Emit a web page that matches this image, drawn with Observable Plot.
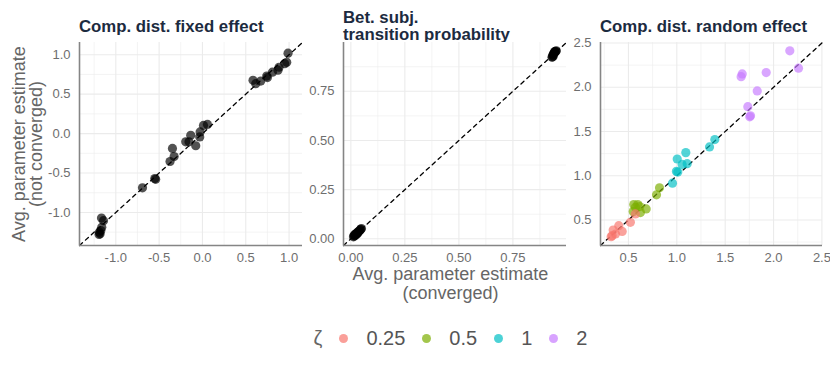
<!DOCTYPE html>
<html><head><meta charset="utf-8">
<script src="https://cdn.jsdelivr.net/npm/d3@7"></script>
<script src="https://cdn.jsdelivr.net/npm/@observablehq/plot@0.6"></script>
<style>
body{margin:0;background:#fff;}
#chart{position:relative;width:830px;height:369px;overflow:hidden;font-family:"Liberation Sans",Arial,sans-serif;}
#chart svg{position:absolute;left:0;top:0;}
#legend{position:absolute;left:0;width:901px;top:326px;height:24px;display:flex;justify-content:center;align-items:center;font-size:20px;color:#555;}
#legend .sw{display:inline-block;width:9px;height:9px;border-radius:50%;margin-left:17px;margin-right:18px;opacity:0.7;}
</style></head><body><div id="chart"><div id="legend"></div></div>
<script>
// ---- Data ----
const panelTitles = ["Comp. dist. fixed effect", "Bet. subj.\ntransition probability", "Comp. dist. random effect"];
const xTitle = ["Avg. parameter estimate", "(converged)"];
const yTitle = ["Avg. parameter estimate", "(not converged)"];
const legendTitle = "ζ";

// Panel 1: comp. dist. fixed effect
const fixedConv    = [0.988, 0.973, 0.950, 0.884, 0.872, 0.808, 0.742, 0.750, 0.673, 0.584, 0.615, 0.058, 0.012, -0.027, -0.031, -0.077, -0.135, -0.155, -0.193, -0.346, -0.327, -0.374, -0.550, -0.540, -0.692, -1.165, -1.142, -1.162, -1.173, -1.181, -1.193, -1.190];
const fixedNotConv = [1.020, 0.904, 0.887, 0.841, 0.804, 0.779, 0.729, 0.710, 0.666, 0.675, 0.633, 0.116, 0.104, 0.021, -0.042, -0.154, -0.021, -0.104, -0.104, -0.188, -0.292, -0.354, -0.571, -0.580, -0.688, -1.071, -1.104, -1.188, -1.229, -1.271, -1.279, -1.250];

// Panel 2: between-subject transition probability
const transConv    = [0.012, 0.015, 0.018, 0.020, 0.022, 0.025, 0.027, 0.030, 0.033, 0.036, 0.040, 0.043, 0.046, 0.049, 0.016, 0.030, 0.931, 0.933, 0.935, 0.938, 0.940, 0.943, 0.946, 0.948, 0.951, 0.937, 0.944];
const transNotConv = [0.010, 0.014, 0.016, 0.020, 0.024, 0.022, 0.028, 0.031, 0.034, 0.036, 0.041, 0.045, 0.048, 0.052, 0.020, 0.026, 0.923, 0.925, 0.935, 0.940, 0.945, 0.948, 0.950, 0.953, 0.956, 0.930, 0.952];

// Panel 3: comp. dist. random effect (coloured by zeta)
const randConv    = [2.168, 2.258, 1.924, 1.676, 1.665, 1.831, 1.734, 1.762, 1.754, 1.393, 1.338, 1.093, 1.004, 1.055, 1.107, 0.996, 1.010, 0.955, 0.821, 0.790, 0.683, 0.624, 0.596, 0.555, 0.572, 0.549, 0.617, 0.572, 0.520, 0.400, 0.435, 0.342, 0.366, 0.331, 0.321];
const randNotConv = [2.412, 2.216, 2.166, 2.151, 2.120, 1.958, 1.780, 1.677, 1.666, 1.409, 1.325, 1.261, 1.189, 1.128, 1.136, 1.049, 1.041, 0.916, 0.864, 0.784, 0.625, 0.583, 0.674, 0.674, 0.643, 0.594, 0.651, 0.568, 0.473, 0.435, 0.370, 0.386, 0.341, 0.322, 0.310];
const randZeta    = ["2","2","2","2","2","2","2","2","2","1","1","1","1","1","1","1","1","1","0.5","0.5","0.5","0.5","0.5","0.5","0.5","0.5","0.5","0.25","0.25","0.25","0.25","0.25","0.25","0.25","0.25"];

const zetaLevels = ["0.25", "0.5", "1", "2"];
const zetaColors = ["#F8766D", "#7CAE00", "#00BFC4", "#C77CFF"];

// Ticks
const ticks1 = [-1, -0.5, 0, 0.5, 1];
const minor1 = [-1.25, -0.75, -0.25, 0.25, 0.75];
const ticks2 = [0, 0.25, 0.5, 0.75];
const minor2 = [0.125, 0.375, 0.625, 0.875];
const ticks3 = [0.5, 1, 1.5, 2, 2.5];
const minor3 = [0.25, 0.75, 1.25, 1.75, 2.25];

// ---- Layout ----
const W = 830, H = 369, TOP = 42, BOTTOM = 245;
const chart = document.getElementById("chart");

function panel({xs, ys, zs, domain, major, minor, fmt, left, right}) {
  const data = xs.map((x, i) => ({x, y: ys[i], z: zs ? zs[i] : null}));
  const diag = domain.map(v => ({v}));
  return Plot.plot({
    width: W, height: H,
    marginLeft: left, marginRight: W - right, marginTop: TOP, marginBottom: H - BOTTOM,
    x: {domain, axis: null},
    y: {domain, axis: null},
    color: {domain: zetaLevels, range: zetaColors},
    style: {background: "transparent", fontFamily: "Liberation Sans, Arial, sans-serif", fontSize: "13px", color: "#6e6e6e"},
    marks: [
      Plot.gridX(minor, {stroke: "#ededed", strokeOpacity: 1, strokeWidth: 0.6}),
      Plot.gridY(minor, {stroke: "#ededed", strokeOpacity: 1, strokeWidth: 0.6}),
      Plot.gridX(major, {stroke: "#ebebeb", strokeOpacity: 1, strokeWidth: 1.1}),
      Plot.gridY(major, {stroke: "#ebebeb", strokeOpacity: 1, strokeWidth: 1.1}),
      Plot.axisX(major, {tickSize: 0, tickPadding: 7, tickFormat: fmt, label: null}),
      Plot.axisY(major, {tickSize: 0, tickPadding: 9, tickFormat: fmt, label: null}),
      Plot.line(diag, {x: "v", y: "v", stroke: "black", strokeDasharray: "4,4", strokeWidth: 1.3}),
      Plot.dot(data, {x: "x", y: "y", r: 4.6, fill: zs ? "z" : "black", fillOpacity: 0.68, stroke: null}),
      Plot.ruleX([domain[0]], {stroke: "#858585", strokeWidth: 1.6}),
      Plot.ruleY([domain[0]], {stroke: "#858585", strokeWidth: 1.6})
    ]
  });
}

chart.append(panel({xs: fixedConv, ys: fixedNotConv, domain: [-1.419, 1.155], major: ticks1, minor: minor1, fmt: d => d.toFixed(1), left: 79, right: 302}));
chart.append(panel({xs: transConv, ys: transNotConv, domain: [-0.034, 0.998], major: ticks2, minor: minor2, fmt: d => d.toFixed(2), left: 343, right: 566}));
chart.append(panel({xs: randConv, ys: randNotConv, zs: randZeta, domain: [0.211, 2.506], major: ticks3, minor: minor3, fmt: d => d.toFixed(1), left: 600, right: 822}));

// ---- Annotations ----
const ann = d3.create("svg").attr("width", W).attr("height", H)
  .style("font-family", "Liberation Sans, Arial, sans-serif");
ann.append("defs").append("clipPath").attr("id", "titleclip")
  .append("rect").attr("x", 0).attr("y", 0).attr("width", W).attr("height", TOP);
const titleX = [79, 343, 600];
panelTitles.forEach((t, i) => {
  const lines = t.split("\n");
  const y0 = lines.length > 1 ? 23 : 31.5;
  const txt = ann.append("text").attr("x", titleX[i]).attr("y", y0)
    .attr("clip-path", "url(#titleclip)")
    .attr("font-weight", "bold").attr("font-size", 16.8).attr("fill", "#1c2b3f");
  lines.forEach((l, j) => txt.append("tspan").attr("x", titleX[i]).attr("dy", j ? 16.7 : 0).text(l));
});
const xt = ann.append("text").attr("text-anchor", "middle").attr("font-size", 18).attr("fill", "#666");
xTitle.forEach((l, j) => xt.append("tspan").attr("x", 450.5).attr("y", 280 + j * 18.5).text(l));
const yt = ann.append("g").attr("transform", "translate(0,144) rotate(-90)");
yTitle.forEach((l, j) => yt.append("text").attr("text-anchor", "middle").attr("x", 0).attr("y", 25 + j * 16.5)
  .attr("font-size", 18).attr("fill", "#666").text(l));
chart.append(ann.node());

// ---- Legend ----
const legend = d3.select("#legend");
legend.append("span").style("color", "#666").text(legendTitle);
zetaLevels.forEach((z, i) => {
  legend.append("span").attr("class", "sw").style("background", zetaColors[i]);
  legend.append("span").text(z);
});
</script></body></html>
